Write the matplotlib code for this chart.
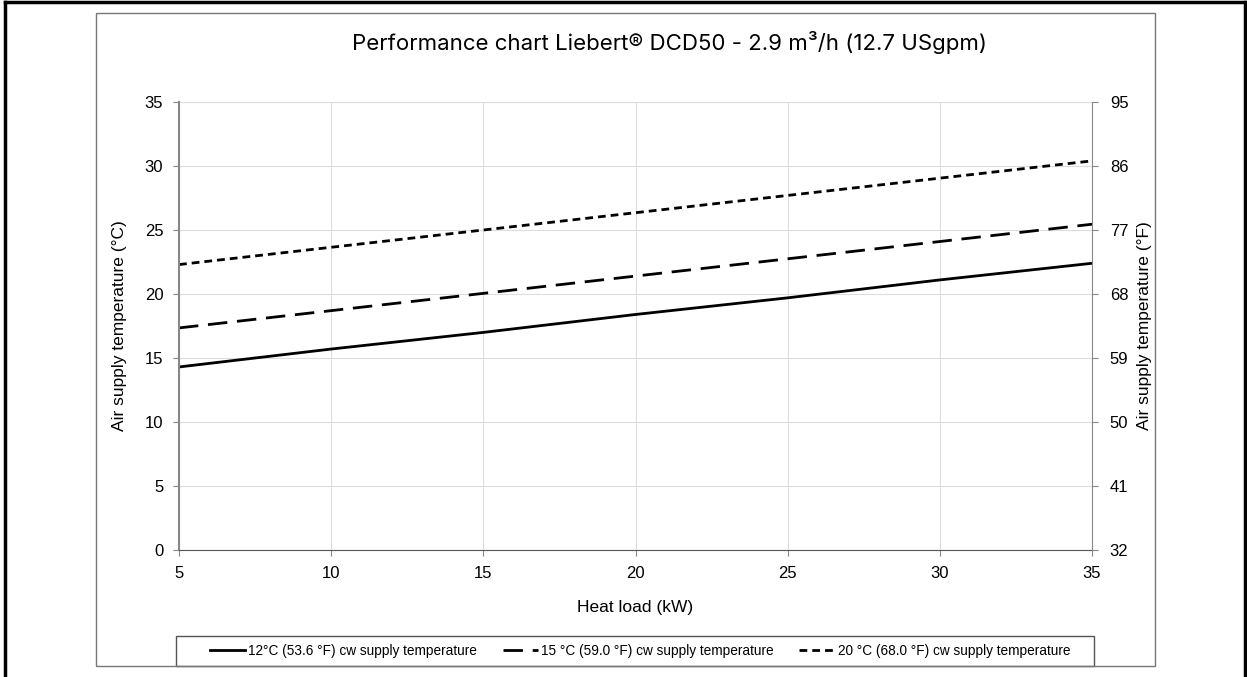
import matplotlib
matplotlib.use('Agg')
import matplotlib.pyplot as plt
from matplotlib.lines import Line2D
from matplotlib.patches import Rectangle

plt.rcParams['font.family'] = ['Liberation Sans', 'DejaVu Sans']

heat_load = [5, 10, 15, 20, 25, 30, 35]
t_12 = [14.3, 15.7, 17.0, 18.4, 19.7, 21.1, 22.4]
t_15 = [17.35, 18.7, 20.05, 21.4, 22.75, 24.1, 25.45]
t_20 = [22.3, 23.65, 25.0, 26.35, 27.7, 29.05, 30.4]
labels = ['12°C (53.6 °F) cw supply temperature',
          '15 °C (59.0 °F) cw supply temperature',
          '20 °C (68.0 °F) cw supply temperature']
c_ticks = [0, 5, 10, 15, 20, 25, 30, 35]
f_ticks = [32, 41, 50, 59, 68, 77, 86, 95]

W, H = 1247, 677
fig = plt.figure(figsize=(W / 100, H / 100), dpi=100)
ax = fig.add_axes([179 / W, 1 - 550 / H, (1092 - 179) / W, (550 - 102) / H])

ax.plot(heat_load, t_12, color='black', lw=2, solid_capstyle='butt')
ax.plot(heat_load, t_15, color='black', lw=2, dashes=(7, 3.5))
ax.plot(heat_load, t_20, color='black', lw=2, dashes=(2.8, 1.8))

ax.set_xlim(5, 35)
ax.set_ylim(0, 35)
ax.set_xticks(heat_load)
ax.set_yticks(c_ticks)
ax.grid(True, color='#dddddd', lw=0.8)
ax.set_axisbelow(True)
for s in ['top', 'right']:
    ax.spines[s].set_visible(False)
ax.spines['left'].set_color('#888888')
ax.spines['left'].set_linewidth(1.5)
ax.spines['bottom'].set_color('#555555')
ax.tick_params(colors='#888888', labelcolor='black', labelsize=12, length=4.3, pad=7)
ax.set_xlabel('Heat load (kW)', fontsize=12.5, labelpad=14)
ax.set_ylabel('Air supply temperature (°C)', fontsize=12.5, labelpad=13)

ax2 = ax.twinx()
ax2.set_ylim(32, 95)
ax2.set_yticks(f_ticks)
for s in ['top', 'left', 'bottom']:
    ax2.spines[s].set_visible(False)
ax2.spines['right'].set_color('#888888')
ax2.tick_params(colors='#888888', labelcolor='black', labelsize=12, length=4.3, pad=8.5)
ax2.set_ylabel('Air supply temperature (°F)', fontsize=12.5, labelpad=6)

fig.text(670 / W, 1 - 43 / H, 'Performance chart Liebert® DCD50 - 2.9 m³/h (12.7 USgpm)',
         ha='center', va='center', fontsize=16, family=['Inter', 'DejaVu Sans'])

handles = [Line2D([], [], color='black', lw=2),
           Line2D([], [], color='black', lw=2, dashes=(7, 3.5)),
           Line2D([], [], color='black', lw=2, dashes=(2.8, 1.8))]
fig.legend(handles, labels, loc='center', bbox_to_anchor=(640 / W, 1 - 651 / H),
           ncol=3, fontsize=9.8, frameon=False, handlelength=2.6,
           handletextpad=0.2, columnspacing=1.9)

# legend box, inner gray frame and outer black border
fig.patches.append(Rectangle((176 / W, 1 - 666 / H), (1094 - 176) / W, 30 / H,
                             transform=fig.transFigure, fill=False, ec='#555555', lw=1))
fig.patches.append(Rectangle((96 / W, 1 - 666 / H), (1155 - 96) / W, (666 - 13) / H,
                             transform=fig.transFigure, fill=False, ec='#777777', lw=1))
fig.add_artist(Line2D([5 / W, 5 / W], [0, 1 - 2 / H], color='black', lw=2.5, transform=fig.transFigure))
fig.add_artist(Line2D([5 / W, 1245 / W], [1 - 2 / H, 1 - 2 / H], color='black', lw=2.5, transform=fig.transFigure))
fig.add_artist(Line2D([1245 / W, 1245 / W], [0, 1 - 2 / H], color='black', lw=2.5, transform=fig.transFigure))

fig.savefig('out.png', dpi=100)
